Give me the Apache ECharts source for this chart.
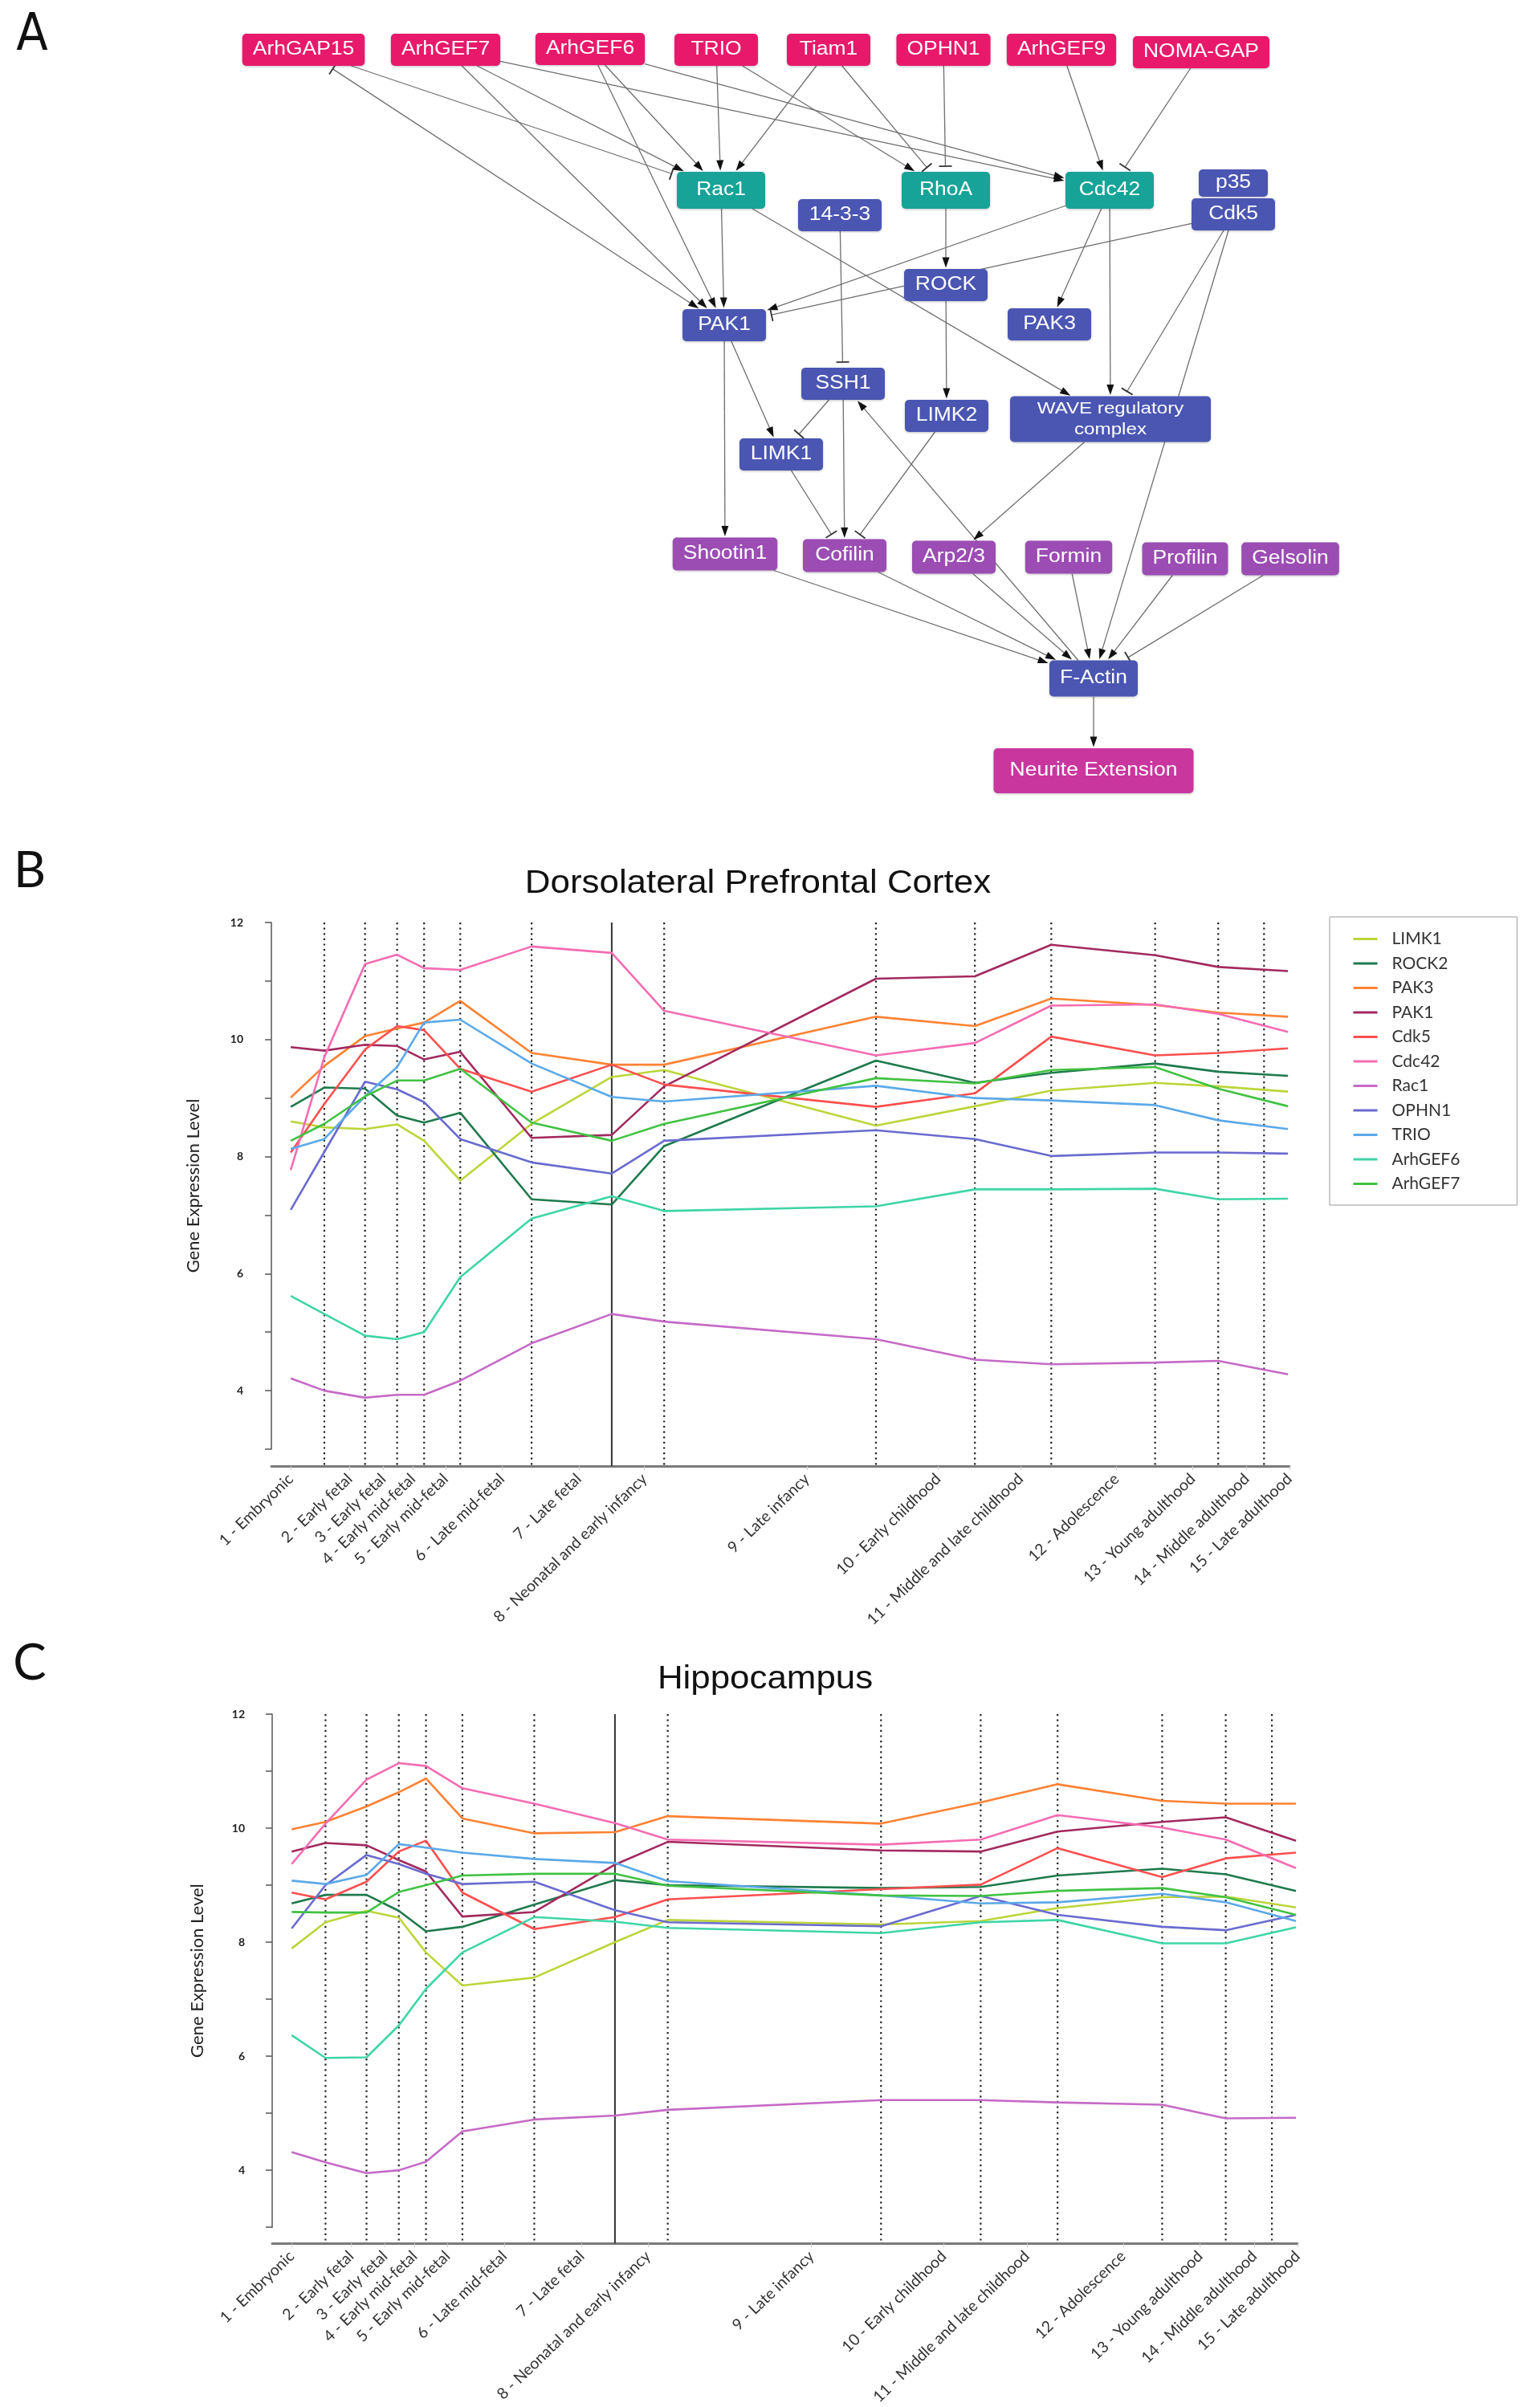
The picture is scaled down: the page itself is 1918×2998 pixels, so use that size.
<!DOCTYPE html>
<html><head><meta charset="utf-8">
<script src="https://cdn.jsdelivr.net/npm/echarts@6/dist/echarts.min.js"></script>
<style>html,body{margin:0;padding:0;background:#fff}#c{width:1918px;height:2998px}</style>
</head><body><div id="c"></div>
<script>
// ================= DATA =================
// Panel A: signalling network
const nodeLabels = ['ArhGAP15','ArhGEF7','ArhGEF6','TRIO','Tiam1','OPHN1','ArhGEF9','NOMA-GAP',
  'Rac1','RhoA','Cdc42','p35','Cdk5','14-3-3','ROCK','PAK1','PAK3','SSH1','LIMK2',
  'WAVE regulatory\ncomplex','LIMK1','Shootin1','Cofilin','Arp2/3','Formin','Profilin','Gelsolin',
  'F-Actin','Neurite Extension'];
const nodeKind = ['reg','reg','reg','reg','reg','reg','reg','reg',
  'gtp','gtp','gtp','small','eff','eff','eff','eff','eff','eff','eff',
  'complex','eff','abp','abp','abp','abp','abp','abp','actin','out'];
// diagram layout (diagram units)
const nodeX = [378,555,735,892,1032,1175,1322,1496, 898,1178,1382,1536,1536,1046,1178,902,1307,1050,1179, 1383,973,903,1052,1188,1331,1476,1607, 1362,1362];
const nodeY = [62,62,61,62,62,62,62,65, 237,237,237,228,267,268,355,405,404,478,518, 522,566,690,692,694,694,696,696, 845,960];
// edges: act = activation (arrow), inh = inhibition (bar), both = arrow at target + bar at source
const edgeFrom = ['ArhGAP15','ArhGAP15','ArhGEF7','ArhGEF7','ArhGEF7','ArhGEF6','ArhGEF6','ArhGEF6','TRIO','TRIO','Tiam1','Tiam1','OPHN1','ArhGEF9','NOMA-GAP',
  'Rac1','Rac1','Cdc42','Cdc42','Cdc42','Cdk5','Cdk5','Cdk5','RhoA','ROCK','14-3-3','PAK1','PAK1','SSH1','SSH1','LIMK1','LIMK2','F-Actin','WAVE regulatory',
  'Shootin1','Cofilin','Arp2/3','Formin','Profilin','Gelsolin','F-Actin'];
const edgeTo = ['Rac1','PAK1','Rac1','PAK1','Cdc42','Rac1','PAK1','Cdc42','Rac1','RhoA','Rac1','RhoA','RhoA','Cdc42','Cdc42',
  'PAK1','WAVE regulatory','PAK1','PAK3','WAVE regulatory','PAK1','WAVE regulatory','F-Actin','ROCK','LIMK2','SSH1','Shootin1','LIMK1','LIMK1','Cofilin','Cofilin','Cofilin','SSH1','Arp2/3',
  'F-Actin','F-Actin','F-Actin','F-Actin','F-Actin','F-Actin','Neurite Extension'];
const edgeType = ['inh','both','act','act','act','act','act','act','act','act','act','inh','inh','act','inh',
  'act','act','act','act','act','inh','inh','act','act','act','inh','act','act','inh','act','inh','inh','act','act',
  'act','act','act','act','act','inh','act'];

// Panels B and C: developmental stages
const stageNames = ['1 - Embryonic','2 - Early fetal','3 - Early fetal','4 - Early mid-fetal','5 - Early mid-fetal',
  '6 - Late mid-fetal','7 - Late fetal','8 - Neonatal and early infancy','9 - Late infancy','10 - Early childhood',
  '11 - Middle and late childhood','12 - Adolescence','13 - Young adulthood','14 - Middle adulthood','15 - Late adulthood'];
const stageX = [1.9, 5.2, 9.2, 12.35, 15.0, 18.55, 25.56, 33.43, 38.58, 59.38, 69.1, 76.6, 86.8, 93.0, 99.85];
const labelX = [1.9, 7.7, 11.0, 13.9, 17.1, 22.65, 30.2, 36.65, 52.6, 65.5, 73.6, 83.0, 90.5, 95.8, 100];
const periodBoundaryX = [5.2, 9.2, 12.35, 15.0, 18.55, 25.56, 38.58, 59.38, 69.1, 76.6, 86.8, 93.0, 97.5];
const birthX = 33.43;
const yTicks = [3, 4, 5, 6, 7, 8, 9, 10, 11, 12];

const genes = ['LIMK1','ROCK2','PAK3','PAK1','Cdk5','Cdc42','Rac1','OPHN1','TRIO','ArhGEF6','ArhGEF7'];

// Dorsolateral Prefrontal Cortex
const dlpfcLIMK1   = [8.60, 8.50, 8.47, 8.55, 8.27, 7.59, 8.56, 9.36, 9.48, 8.53, 8.86, 9.13, 9.26, 9.20, 9.11];
const dlpfcROCK2   = [8.85, 9.18, 9.16, 8.70, 8.58, 8.75, 7.27, 7.18, 8.18, 9.64, 9.26, 9.43, 9.59, 9.45, 9.38];
const dlpfcPAK3    = [9.01, 9.55, 10.06, 10.19, 10.29, 10.66, 9.77, 9.57, 9.57, 10.39, 10.23, 10.70, 10.59, 10.46, 10.39];
const dlpfcPAK1    = [9.87, 9.81, 9.91, 9.89, 9.66, 9.79, 8.32, 8.37, 9.20, 11.04, 11.08, 11.62, 11.44, 11.24, 11.17];
const dlpfcCdk5    = [8.07, 8.90, 9.83, 10.23, 10.16, 9.50, 9.11, 9.57, 9.23, 8.85, 9.08, 10.05, 9.73, 9.77, 9.85];
const dlpfcCdc42   = [7.77, 9.70, 11.29, 11.45, 11.22, 11.19, 11.59, 11.48, 10.49, 9.73, 9.94, 10.58, 10.60, 10.44, 10.13];
const dlpfcRac1    = [4.21, 4.00, 3.88, 3.93, 3.93, 4.17, 4.81, 5.31, 5.18, 4.88, 4.53, 4.45, 4.48, 4.51, 4.28];
const dlpfcOPHN1   = [7.09, 8.08, 9.28, 9.15, 8.93, 8.30, 7.90, 7.71, 8.27, 8.45, 8.30, 8.01, 8.07, 8.07, 8.05];
const dlpfcTRIO    = [8.13, 8.30, 9.03, 9.53, 10.29, 10.34, 9.59, 9.02, 8.94, 9.21, 9.00, 8.96, 8.88, 8.62, 8.47];
const dlpfcArhGEF6 = [5.62, 5.31, 4.94, 4.88, 5.00, 5.94, 6.94, 7.32, 7.07, 7.15, 7.44, 7.44, 7.45, 7.27, 7.28];
const dlpfcArhGEF7 = [8.27, 8.56, 9.03, 9.30, 9.30, 9.50, 8.58, 8.27, 8.56, 9.34, 9.25, 9.48, 9.53, 9.16, 8.86];

// Hippocampus
const hipLIMK1   = [7.89, 8.35, 8.55, 8.43, 7.82, 7.24, 7.38, 8.00, 8.39, 8.31, 8.37, 8.60, 8.79, 8.80, 8.61];
const hipROCK2   = [8.68, 8.83, 8.83, 8.55, 8.19, 8.27, 8.66, 9.09, 9.00, 8.95, 8.97, 9.17, 9.29, 9.19, 8.90];
const hipPAK3    = [9.98, 10.11, 10.38, 10.63, 10.87, 10.17, 9.91, 9.93, 10.21, 10.08, 10.45, 10.77, 10.48, 10.43, 10.43];
const hipPAK1    = [9.59, 9.74, 9.70, 9.44, 9.24, 8.45, 8.53, 9.36, 9.76, 9.61, 9.59, 9.94, 10.11, 10.19, 9.78];
const hipCdk5    = [8.87, 8.75, 9.06, 9.59, 9.78, 8.87, 8.23, 8.44, 8.75, 8.93, 9.01, 9.65, 9.14, 9.47, 9.57];
const hipCdc42   = [9.37, 10.08, 10.85, 11.14, 11.09, 10.70, 10.43, 10.09, 9.80, 9.71, 9.80, 10.23, 10.01, 9.80, 9.30];
const hipRac1    = [4.32, 4.14, 3.95, 4.00, 4.15, 4.68, 4.89, 4.96, 5.06, 5.23, 5.23, 5.19, 5.15, 4.91, 4.92];
const hipOPHN1   = [8.24, 9.00, 9.53, 9.37, 9.20, 9.02, 9.06, 8.56, 8.35, 8.28, 8.81, 8.48, 8.27, 8.21, 8.48];
const hipTRIO    = [9.08, 9.02, 9.18, 9.72, 9.66, 9.57, 9.46, 9.39, 9.07, 8.82, 8.68, 8.70, 8.85, 8.70, 8.37];
const hipArhGEF6 = [6.37, 5.97, 5.98, 6.54, 7.18, 7.82, 8.44, 8.36, 8.25, 8.16, 8.35, 8.39, 7.98, 7.98, 8.26];
const hipArhGEF7 = [8.53, 8.52, 8.52, 8.88, 9.00, 9.17, 9.20, 9.20, 8.99, 8.82, 8.81, 8.90, 8.95, 8.79, 8.48];

const dlpfcValues = [dlpfcLIMK1, dlpfcROCK2, dlpfcPAK3, dlpfcPAK1, dlpfcCdk5, dlpfcCdc42, dlpfcRac1, dlpfcOPHN1, dlpfcTRIO, dlpfcArhGEF6, dlpfcArhGEF7];
const hipValues = [hipLIMK1, hipROCK2, hipPAK3, hipPAK1, hipCdk5, hipCdc42, hipRac1, hipOPHN1, hipTRIO, hipArhGEF6, hipArhGEF7];

// ================= STYLE =================
const geneColors = ['#bcd53a','#1f7a4d','#ff8233','#a22a5e','#ff4f4f','#f56cb2','#c56ac6','#6a6bcf','#5ba9e8','#3fd5a6','#41c243'];
const kindStyle = {
  reg:     {color:'#E8196B', h:40, minW:104},
  gtp:     {color:'#17A398', h:46, minW:110},
  eff:     {color:'#4A56B2', h:40, minW:104},
  small:   {color:'#4A56B2', h:34, minW:86},
  complex: {color:'#4A56B2', h:57, minW:250, fs:21},
  abp:     {color:'#9B4DB3', h:41, minW:104},
  actin:   {color:'#4A56B2', h:45, minW:110},
  out:     {color:'#C9369E', h:56, minW:249}
};
const NODE_FS = 23, NODE_SX = 1.15, NODE_PAD = 26;
const NODE_FONT = '"Liberation Sans", Arial, sans-serif';

const mctx = document.createElement('canvas').getContext('2d');
function textWidth(s, px) { mctx.font = px + 'px ' + NODE_FONT; return mctx.measureText(s).width; }
const nodeIndex = {};
nodeLabels.forEach((l, i) => { nodeIndex[l.split('\n')[0]] = i; });
const nodeW = nodeLabels.map((l, i) => {
  const st = kindStyle[nodeKind[i]];
  const fs = st.fs || NODE_FS;
  const tw = Math.max(...l.split('\n').map(s => textWidth(s, fs))) * NODE_SX;
  return Math.max(st.minW, tw + NODE_PAD);
});
const nodeH = nodeLabels.map((l, i) => kindStyle[nodeKind[i]].h);

function exitFrac(hw, hh, dx, dy) {
  const tx = Math.abs(dx) > 1e-9 ? hw / Math.abs(dx) : Infinity;
  const ty = Math.abs(dy) > 1e-9 ? hh / Math.abs(dy) : Infinity;
  return Math.min(tx, ty);
}

function renderEdge(params, api) {
  const k = params.dataIndex;
  const a = nodeIndex[edgeFrom[k]], b = nodeIndex[edgeTo[k]];
  const p = api.coord([nodeX[a], nodeY[a]]);
  const q = api.coord([nodeX[b], nodeY[b]]);
  const dx = q[0] - p[0], dy = q[1] - p[1];
  const len = Math.hypot(dx, dy), ux = dx / len, uy = dy / len, nx = -uy, ny = ux;
  const fs = exitFrac(nodeW[a] / 2, nodeH[a] / 2, dx, dy);
  const fe = exitFrac(nodeW[b] / 2, nodeH[b] / 2, dx, dy);
  let sx = p[0] + dx * fs, sy = p[1] + dy * fs;
  let ex = q[0] - dx * fe, ey = q[1] - dy * fe;
  const children = [];
  const type = edgeType[k];
  const barLen = 8, L = 13, W = 4.5;
  if (type === 'both') {
    sx += ux * 7; sy += uy * 7;
    children.push({type:'line', shape:{x1:sx + nx*barLen, y1:sy + ny*barLen, x2:sx - nx*barLen, y2:sy - ny*barLen}, style:{stroke:'#333', lineWidth:1.8}});
  }
  let lx = ex, ly = ey;
  if (type === 'act' || type === 'both') {
    const tx = ex - ux * 1.5, ty = ey - uy * 1.5;
    const bx = tx - ux * L, by = ty - uy * L;
    children.push({type:'polygon', shape:{points:[[tx, ty], [bx + nx*W, by + ny*W], [bx - nx*W, by - ny*W]]}, style:{fill:'#111'}});
    lx = tx - ux * L * 0.7; ly = ty - uy * L * 0.7;
  } else {
    const cx = ex - ux * 7, cy = ey - uy * 7;
    children.push({type:'line', shape:{x1:cx + nx*barLen, y1:cy + ny*barLen, x2:cx - nx*barLen, y2:cy - ny*barLen}, style:{stroke:'#333', lineWidth:1.8}});
    lx = cx; ly = cy;
  }
  children.unshift({type:'line', shape:{x1:sx, y1:sy, x2:lx, y2:ly}, style:{stroke:'#6e6e6e', lineWidth:1.3}});
  return {type:'group', children};
}

function renderNode(params, api) {
  const i = params.dataIndex;
  const c = api.coord([nodeX[i], nodeY[i]]);
  const st = kindStyle[nodeKind[i]];
  const fs = st.fs || NODE_FS;
  const w = nodeW[i], h = nodeH[i];
  return {type:'group', children:[
    {type:'rect', shape:{x:c[0] - w/2, y:c[1] - h/2, width:w, height:h, r:5},
      style:{fill:st.color, shadowBlur:3, shadowColor:'rgba(0,0,0,0.25)', shadowOffsetY:1}},
    {type:'text', x:c[0], y:c[1], scaleX:NODE_SX,
      style:{text:nodeLabels[i], fill:'#fff', font: fs + 'px ' + NODE_FONT, align:'center', verticalAlign:'middle', lineHeight: fs * 1.25}}
  ]};
}

function periodLines(gi, axisOffset) {
  return {
    type:'custom', xAxisIndex:gi, yAxisIndex:gi, silent:true, z:1,
    data: periodBoundaryX.map(x => [x, 0]).concat([[birthX, 1]]),
    renderItem: (params, api) => {
      const x = api.value(0), solid = api.value(1) === 1;
      const top = api.coord([x, yTicks[yTicks.length - 1]]);
      const bot = api.coord([x, yTicks[0]]);
      return {type:'line', shape:{x1:top[0], y1:top[1], x2:top[0], y2:bot[1] + axisOffset},
        style: solid ? {stroke:'#333', lineWidth:2} : {stroke:'#222', lineWidth:2.2, lineDash:[2.2, 4.4]}};
    }
  };
}

function xAxisFor(gi, off) {
  return {gridIndex:gi, type:'value', min:0, max:100, offset:off,
    axisLine:{show:true, lineStyle:{color:'#7a7a7a', width:3}},
    axisTick:{show:true, customValues:labelX, length:5, lineStyle:{color:'#d0d0d0'}},
    axisLabel:{customValues:labelX, rotate:44, margin:13,
      formatter: v => { const j = labelX.indexOf(v); return j >= 0 ? stageNames[j] : ''; },
      fontFamily:'Lato', fontSize:19.5, color:'#333'},
    splitLine:{show:false}};
}
function yAxisFor(gi, off, gap) {
  return {gridIndex:gi, type:'value', min:yTicks[0], max:yTicks[yTicks.length-1], interval:1, offset:off,
    axisLine:{show:true, lineStyle:{color:'#555', width:1.5}},
    axisTick:{show:true, length:8, lineStyle:{color:'#555', width:1.5}},
    axisLabel:{formatter: v => (v % 2 === 0 ? String(v) : ''), fontFamily:'Lato', fontWeight:'bold', fontSize:14, color:'#222', margin:14},
    splitLine:{show:false},
    name:'Gene Expression Level', nameLocation:'middle', nameGap:gap,
    nameTextStyle:{fontFamily:'Lato', fontSize:22, color:'#222'}};
}

const series = [
  {type:'custom', xAxisIndex:0, yAxisIndex:0, z:1, silent:true, data: edgeFrom.map(() => [0, 0]), renderItem: renderEdge},
  {type:'custom', xAxisIndex:0, yAxisIndex:0, z:2, silent:true, data: nodeLabels.map(() => [0, 0]), renderItem: renderNode},
  periodLines(1, 21),
  periodLines(2, 20)
];
genes.forEach((g, k) => {
  series.push({name:g, type:'line', xAxisIndex:1, yAxisIndex:1, symbol:'none', z:3, silent:true,
    data: stageX.map((x, i) => [x, dlpfcValues[k][i]]),
    lineStyle:{width:2.6, color:geneColors[k]}, itemStyle:{color:geneColors[k]}});
});
genes.forEach((g, k) => {
  series.push({name:g, type:'line', xAxisIndex:2, yAxisIndex:2, symbol:'none', z:3, silent:true,
    data: stageX.map((x, i) => [x, hipValues[k][i]]),
    lineStyle:{width:2.6, color:geneColors[k]}, itemStyle:{color:geneColors[k]}});
});

const option = {
  animation:false,
  backgroundColor:'#fff',
  textStyle:{fontFamily:'Lato'},
  graphic:[
    {type:'text', x:40, y:45, style:{text:'A', font:'64px "Liberation Sans Narrow", "DejaVu Sans Condensed", sans-serif', fill:'#111', align:'center', verticalAlign:'middle'}},
    {type:'text', x:37, y:1085, style:{text:'B', font:'62px Lato, sans-serif', fill:'#111', align:'center', verticalAlign:'middle'}},
    {type:'text', x:37, y:2072, style:{text:'C', font:'62px Lato, sans-serif', fill:'#111', align:'center', verticalAlign:'middle'}},
    {type:'text', x:944, y:1101, scaleX:1.07, style:{text:'Dorsolateral Prefrontal Cortex', font:'41px "Liberation Sans", Arial, sans-serif', fill:'#111', align:'center', verticalAlign:'middle'}},
    {type:'text', x:953, y:2092, scaleX:1.07, style:{text:'Hippocampus', font:'41px "Liberation Sans", Arial, sans-serif', fill:'#111', align:'center', verticalAlign:'middle'}}
  ],
  legend:{
    data:genes, orient:'vertical', left:1656, top:1142, selectedMode:false,
    itemWidth:30, itemHeight:14, itemGap:9.5,
    padding:[17, 71, 16, 28],
    borderColor:'#999', borderWidth:1,
    itemStyle:{opacity:0},
    lineStyle:{width:3},
    textStyle:{fontFamily:'Lato', fontSize:21, color:'#333', padding:[0,0,0,13]}
  },
  grid:[
    {left:0, top:0, width:1918, height:1000},
    {left:338, top:1149, width:1268, height:656},
    {left:339, top:2135, width:1277, height:646}
  ],
  xAxis:[
    {gridIndex:0, type:'value', min:0, max:1918, show:false},
    xAxisFor(1, 21),
    xAxisFor(2, 20)
  ],
  yAxis:[
    {gridIndex:0, type:'value', min:0, max:1000, inverse:true, show:false},
    yAxisFor(1, 21, 65),
    yAxisFor(2, 20, 62)
  ],
  series
};

const chart = echarts.init(document.getElementById('c'), null, {renderer:'canvas', width:1918, height:2998});
chart.setOption(option);
</script>
</body></html>
